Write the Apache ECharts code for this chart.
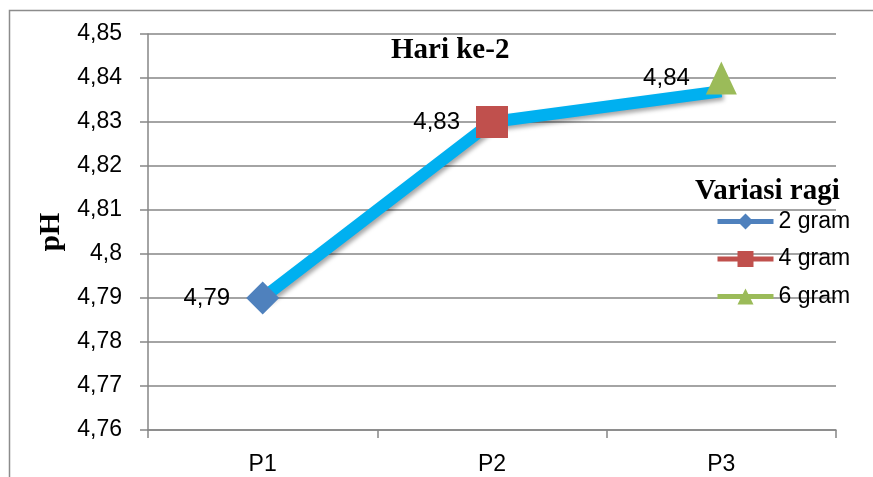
<!DOCTYPE html>
<html>
<head>
<meta charset="utf-8">
<script src="https://cdn.jsdelivr.net/npm/echarts@6/dist/echarts.min.js"></script>
<style>
  html, body { margin: 0; padding: 0; background: #fff; }
  #chart { width: 873px; height: 477px; }
</style>
</head>
<body>
<div id="chart"></div>
<script>
// data
var categories = ['P1', 'P2', 'P3'];
var trendValues = [4.79, 4.83, 4.837];
var gram2 = [4.79, null, null];
var gram4 = [null, 4.83, null];
var gram6 = [null, null, 4.84];
var seriesNames = ['2 gram', '4 gram', '6 gram'];

var chartDom = document.getElementById('chart');
var myChart = echarts.init(chartDom);
var option;

function fmt(v) {
  return (+v).toFixed(2).replace(/0+$/, '').replace(/\.$/, '').replace('.', ',');
}

var labelCfg = {
  show: true,
  position: 'left',
  distance: 16,
  color: '#000',
  fontSize: 24,
  fontFamily: 'Liberation Sans',
  formatter: function (p) { return fmt(p.value); }
};

option = {
  animation: false,
  title: [
    {
      text: 'Hari ke-2',
      left: 386,
      top: 31,
      textStyle: { fontFamily: 'Liberation Serif', fontWeight: 'bold', fontSize: 29, color: '#000' }
    },
    {
      text: 'Variasi ragi',
      left: 690,
      top: 172,
      textStyle: { fontFamily: 'Liberation Serif', fontWeight: 'bold', fontSize: 29, color: '#000' }
    }
  ],
  graphic: [
    {
      type: 'rect',
      shape: { x: 9.5, y: 10.5, width: 900, height: 500 },
      style: { fill: 'none', stroke: '#8c8c8c', lineWidth: 1.5 }
    }
  ],
  legend: {
    orient: 'vertical',
    left: 710,
    top: 205,
    itemWidth: 56,
    itemHeight: 20,
    itemGap: 14.5,
    data: seriesNames,
    lineStyle: { width: 5 },
    textStyle: { fontSize: 23, lineHeight: 20, fontFamily: 'Liberation Sans', color: '#000' }
  },
  grid: { left: 148, right: 37, top: 34, bottom: 47 },
  xAxis: {
    type: 'category',
    data: categories,
    boundaryGap: true,
    axisLine: { lineStyle: { color: '#868686', width: 1.5 } },
    axisTick: { show: true, length: 8, lineStyle: { color: '#868686', width: 1.5 } },
    axisLabel: { color: '#000', fontSize: 23, fontFamily: 'Liberation Sans', margin: 23 }
  },
  yAxis: {
    type: 'value',
    min: 4.76,
    max: 4.85,
    interval: 0.01,
    name: 'pH',
    nameLocation: 'middle',
    nameGap: 80,
    nameTextStyle: { fontFamily: 'Liberation Serif', fontWeight: 'bold', fontSize: 29, color: '#000' },
    axisLine: { show: true, lineStyle: { color: '#868686', width: 1.5 } },
    axisTick: { show: true, length: 8, lineStyle: { color: '#868686', width: 1.5 } },
    splitLine: { lineStyle: { color: '#868686', width: 1.5 } },
    axisLabel: { color: '#000', fontSize: 23, fontFamily: 'Liberation Sans', margin: 26, formatter: fmt }
  },
  series: [
    {
      name: 'trend',
      type: 'line',
      data: trendValues,
      symbol: 'none',
      z: 2,
      lineStyle: {
        color: '#00b0f0', width: 12,
        shadowColor: 'rgba(0,0,0,0.35)', shadowBlur: 4, shadowOffsetX: 2, shadowOffsetY: 3
      }
    },
    {
      name: seriesNames[0],
      type: 'line',
      data: gram2,
      z: 3,
      symbol: 'diamond',
      symbolSize: 33,
      itemStyle: { color: '#4f81bd' },
      lineStyle: { color: '#4f81bd', width: 5 },
      label: labelCfg
    },
    {
      name: seriesNames[1],
      type: 'line',
      data: gram4,
      z: 3,
      symbol: 'rect',
      symbolSize: 32,
      itemStyle: { color: '#c0504d' },
      lineStyle: { color: '#c0504d', width: 5 },
      label: labelCfg
    },
    {
      name: seriesNames[2],
      type: 'line',
      data: gram6,
      z: 3,
      symbol: 'triangle',
      symbolSize: [31, 33],
      itemStyle: { color: '#9bbb59' },
      lineStyle: { color: '#9bbb59', width: 5 },
      label: labelCfg
    }
  ]
};

option && myChart.setOption(option);
</script>
</body>
</html>
